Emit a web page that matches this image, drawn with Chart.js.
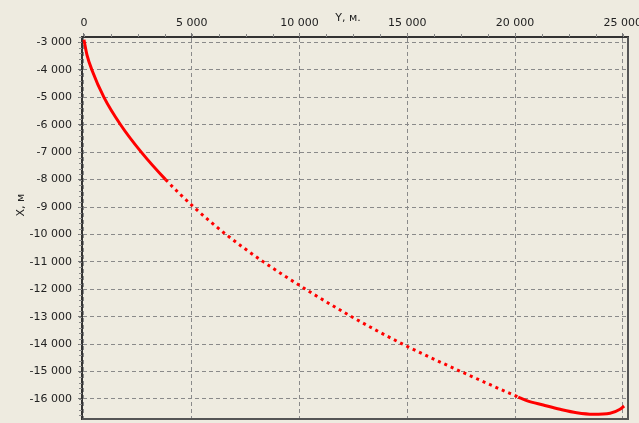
<!DOCTYPE html>
<html><head><meta charset="utf-8">
<script src="https://cdn.jsdelivr.net/npm/chart.js@4/dist/chart.umd.min.js"></script>
<style>html,body{margin:0;padding:0;background:#EEEBE0;overflow:hidden}</style>
</head><body>
<canvas id="c" width="639" height="423" style="display:block;width:639px;height:423px"></canvas>
<script>
// Horizontal coordinate "Y, м." (metres)
const coordY = [0, 140, 370, 930, 1700, 2660, 3790, 5090, 6590, 8330, 10290, 12420, 14790, 17490, 20150, 20540, 21310, 22090, 22860, 23630, 24410, 24870, 25060];
// Vertical coordinate "X, м" (metres)
const coordX = [-2900, -3450, -4000, -5000, -6000, -7000, -8000, -9000, -10000, -11000, -12000, -13000, -14000, -15000, -15930, -16060, -16220, -16375, -16500, -16555, -16520, -16375, -16255];
const topTicks = [0, 5000, 10000, 15000, 20000, 25000];
const leftTicks = [-3000, -4000, -5000, -6000, -7000, -8000, -9000, -10000, -11000, -12000, -13000, -14000, -15000, -16000];
const topTitle = 'Y, м.';
const leftTitle = 'X, м';

const points = coordY.map((v, i) => ({x: v, y: coordX[i]}));
const FONT = 'DejaVu Sans';
const fmt = v => (v < 0 ? '-' : '') + Math.abs(v).toString().replace(/\B(?=(\d{3})+(?!\d))/g, ' ');
const noPad = s => { s.paddingTop = 0; s.paddingBottom = 0; s.paddingLeft = 0; s.paddingRight = 0; };

const deco = {
  id: 'deco',
  beforeDraw(chart) {
    const c = chart.ctx;
    c.save();
    c.fillStyle = '#EEEBE0';
    c.fillRect(0, 0, chart.width, chart.height);
    c.restore();
  },
  afterDraw(chart) {
    const c = chart.ctx, a = chart.chartArea;
    const xs = chart.scales.x, ys = chart.scales.y;
    c.save();
    // right & bottom frame
    c.strokeStyle = '#555';
    c.lineWidth = 2;
    c.beginPath();
    c.moveTo(a.right, a.top); c.lineTo(a.right, a.bottom); c.lineTo(a.left, a.bottom);
    c.stroke();
    // minor ticks
    c.strokeStyle = '#888';
    c.lineWidth = 1;
    c.beginPath();
    for (let v = 0; v <= 25000; v += 1250) {
      const p = Math.round(xs.getPixelForValue(v)) + 0.5;
      c.moveTo(p, a.top - 3); c.lineTo(p, a.top);
    }
    for (let v = -16600; v <= -2800; v += 200) {
      const p = Math.round(ys.getPixelForValue(v)) + 0.5;
      c.moveTo(a.left - 3, p); c.lineTo(a.left, p);
    }
    c.stroke();
    // axis titles
    c.fillStyle = '#222';
    c.font = '11px "' + FONT + '"';
    c.textAlign = 'center';
    c.textBaseline = 'middle';
    c.fillText(topTitle, 348, 18);
    c.translate(21, 205);
    c.rotate(-Math.PI / 2);
    c.fillText(leftTitle, 0, 0);
    c.restore();
  }
};

new Chart(document.getElementById('c'), {
  type: 'scatter',
  data: {
    datasets: [{
      data: points,
      showLine: true,
      borderColor: '#FF0000',
      backgroundColor: '#FF0000',
      borderWidth: 3,
      pointRadius: 0,
      cubicInterpolationMode: 'monotone',
      segment: {
        borderDash: ctx => (ctx.p0.parsed.x >= 3700 && ctx.p1.parsed.x <= 20200) ? [3, 4] : undefined
      }
    }]
  },
  options: {
    responsive: false,
    animation: false,
    devicePixelRatio: 1,
    layout: {padding: {left: 0, top: 0, right: 11, bottom: 4}},
    plugins: {legend: {display: false}, tooltip: {enabled: false}},
    scales: {
      x: {
        type: 'linear', position: 'top', min: -90, max: 25240,
        afterBuildTicks: s => { s.ticks = topTicks.map(v => ({value: v})); },
        afterFit: s => { s.height = 37; noPad(s); },
        ticks: {font: {family: FONT, size: 11}, color: '#222', padding: 3, maxRotation: 0, callback: v => fmt(v)},
        grid: {color: '#8a8a8a', lineWidth: 1, tickLength: 4, tickColor: '#777'},
        border: {display: true, color: '#333', width: 2, dash: [4, 3]}
      },
      y: {
        type: 'linear', min: -16730, max: -2800,
        afterBuildTicks: s => { s.ticks = leftTicks.map(v => ({value: v})); },
        afterFit: s => { s.width = 82; noPad(s); },
        ticks: {font: {family: FONT, size: 11}, color: '#222', padding: 6, callback: v => fmt(v)},
        grid: {color: '#8a8a8a', lineWidth: 1, tickLength: 4, tickColor: '#777'},
        border: {display: true, color: '#333', width: 2, dash: [4, 3]}
      }
    }
  },
  plugins: [deco]
});
</script>
</body></html>
